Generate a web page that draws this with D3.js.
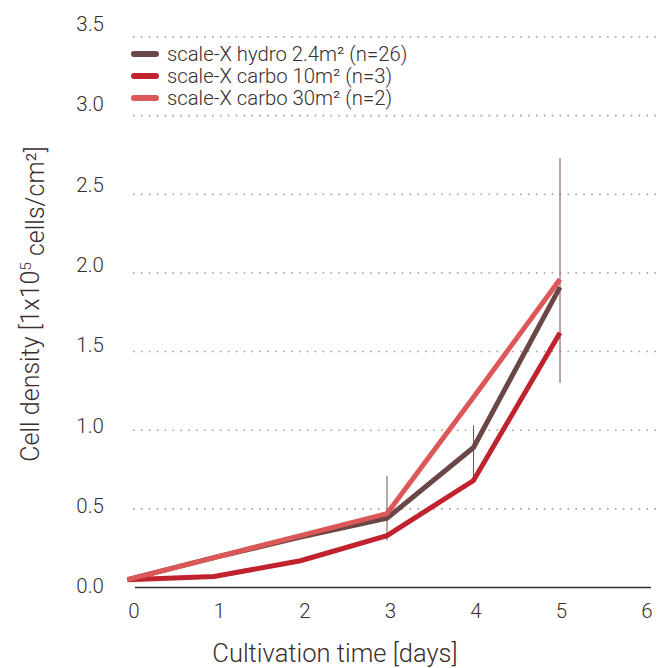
<!DOCTYPE html>
<html><head><meta charset="utf-8">
<script src="https://cdn.jsdelivr.net/npm/d3@7"></script>
<style>
html,body{margin:0;padding:0;background:#fff;}
text{font-family:Roboto,"Noto Sans",sans-serif;font-weight:300;fill:#3b2e2e;}
</style></head><body>
<svg id="c" width="665" height="668"></svg>
<script>
const days = [0, 1, 2, 3, 4, 5];
const xTicks = [0, 1, 2, 3, 4, 5, 6];
const yTicks = [0, 0.5, 1.0, 1.5, 2.0, 2.5, 3.0, 3.5];
const seriesNames = ["scale-X hydro 2.4m² (n=26)", "scale-X carbo 10m² (n=3)", "scale-X carbo 30m² (n=2)"];
const seriesColors = ["#6a4646", "#c0232e", "#dc5757"];
const hydro = [0.05, 0.19, 0.32, 0.44, 0.89, 1.91];
const carbo10 = [0.05, 0.07, 0.17, 0.33, 0.68, 1.62];
const carbo30 = [0.05, 0.19, 0.33, 0.47, 1.21, 1.96];
const errDays = [3, 4, 5];
const errLow = [0.30, 0.70, 1.30];
const errHigh = [0.71, 1.03, 2.73];

const svg = d3.select("#c");
const x = d3.scaleLinear().domain([0, 5]).range([127.5, 560]);
const y = d3.scaleLinear().domain([0, 3.5]).range([587.5, 37]);
// tick label placement scales
const xl = d3.scaleLinear().domain([0, 6]).range([134, 647]);
const yl = d3.scaleLinear().domain([0, 3.5]).range([586, 24]);

// gridlines
svg.append("g").selectAll("line").data(yTicks.filter(d => d > 0)).join("line")
  .attr("x1", 133).attr("x2", 660)
  .attr("y1", d => y(d)).attr("y2", d => y(d))
  .attr("stroke", "#a89a9a").attr("stroke-width", 1.6)
  .attr("stroke-dasharray", "1.6,6.3");

// y tick labels
svg.append("g").selectAll("text").data(yTicks).join("text")
  .attr("x", 104).attr("y", d => yl(d)).attr("dy", "0.35em")
  .attr("text-anchor", "end").attr("font-size", 20.5)
  .text(d => d3.format(".1f")(d));

// x tick labels
svg.append("g").selectAll("text").data(xTicks).join("text")
  .attr("x", d => xl(d)).attr("y", 611).attr("dy", "0.35em")
  .attr("text-anchor", "middle").attr("font-size", 20.5)
  .text(d => d);

// x axis line
svg.append("line").attr("x1", 135).attr("x2", 651).attr("y1", 587.5).attr("y2", 587.5)
  .attr("stroke", "#3b2a2a").attr("stroke-width", 1.6);

// error bars
svg.append("g").selectAll("line").data(errDays).join("line")
  .attr("x1", d => x(d)).attr("x2", d => x(d))
  .attr("y1", (d, i) => y(errHigh[i])).attr("y2", (d, i) => y(errLow[i]))
  .attr("stroke", "#7a4f4f").attr("stroke-width", 1);

// lines
const line = d3.line().x((d, i) => x(days[i])).y(d => y(d));
const allSeries = [hydro, carbo10, carbo30];
const order = [0, 1, 2];
svg.append("g").selectAll("path").data(order).join("path")
  .attr("d", i => line(allSeries[i]))
  .attr("fill", "none").attr("stroke", i => seriesColors[i])
  .attr("stroke-width", 5).attr("stroke-linejoin", "miter");

// legend
const lg = svg.append("g");
seriesNames.forEach((n, i) => {
  const yy = 54 + i * 22;
  lg.append("line").attr("x1", 134).attr("x2", 156).attr("y1", yy).attr("y2", yy)
    .attr("stroke", seriesColors[i]).attr("stroke-width", 6).attr("stroke-linecap", "round");
  lg.append("text").attr("x", 167).attr("y", yy).attr("dy", "0.35em")
    .attr("font-size", 20.3).text(n);
});

// axis titles
svg.append("text").attr("x", 335).attr("y", 653).attr("dy", "0.35em")
  .attr("text-anchor", "middle").attr("font-size", 25.5).text("Cultivation time [days]");
const yt = svg.append("text").attr("transform", "translate(30,304) rotate(-90)")
  .attr("text-anchor", "middle").attr("dy", "0.35em").attr("font-size", 25);
yt.append("tspan").text("Cell density [1x10");
yt.append("tspan").attr("font-size", 15).attr("dy", "-0.55em").text("5");
yt.append("tspan").attr("dy", "0.55em").text(" cells/cm²]");
</script></body></html>
